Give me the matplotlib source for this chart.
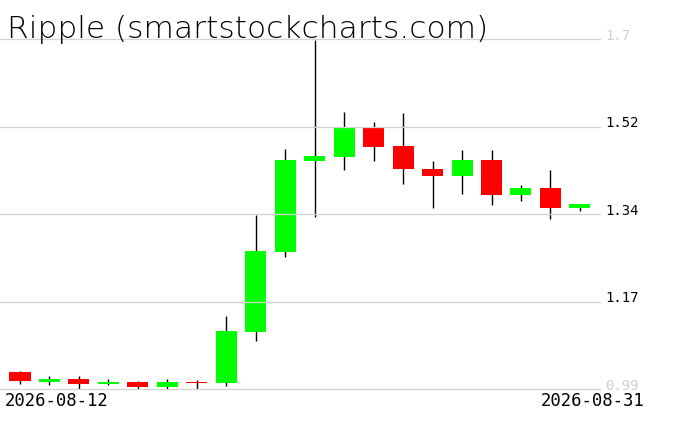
import matplotlib
matplotlib.use('Agg')
import matplotlib.pyplot as plt

title = 'Ripple (smartstockcharts.com)'
dates = ['2026-08-12', '2026-08-13', '2026-08-14', '2026-08-15', '2026-08-16',
         '2026-08-17', '2026-08-18', '2026-08-19', '2026-08-20', '2026-08-21',
         '2026-08-22', '2026-08-23', '2026-08-24', '2026-08-25', '2026-08-26',
         '2026-08-27', '2026-08-28', '2026-08-29', '2026-08-30', '2026-08-31']
opens = [1.0245, 1.0042, 1.0103, 1.0001, 1.0042, 0.9940, 1.0042, 1.0028, 1.1062, 1.2685,
         1.4531, 1.4612, 1.5195, 1.4829, 1.4363, 1.4227, 1.4545, 1.3841, 1.3977, 1.3578]
highs = [1.0265, 1.0164, 1.0164, 1.0103, 1.0062, 1.0103, 1.0082, 1.1381, 1.3430, 1.4769,
         1.6980, 1.5525, 1.5316, 1.5499, 1.4525, 1.4748, 1.4748, 1.4038, 1.4343, 1.3633]
lows = [1.0001, 0.9981, 0.9900, 0.9981, 0.9900, 0.9900, 0.9900, 0.9967, 1.0880, 1.2584,
        1.3395, 1.4349, 1.4531, 1.4065, 1.3578, 1.3862, 1.3639, 1.3720, 1.3355, 1.3517]
closes = [1.0062, 1.0103, 1.0001, 1.0042, 0.9940, 1.0042, 1.0022, 1.1076, 1.2699, 1.4545,
          1.4627, 1.5195, 1.4815, 1.4363, 1.4227, 1.4545, 1.3841, 1.3977, 1.3578, 1.3653]
ytick_values = [0.99, 1.1675, 1.345, 1.5225, 1.70]
ytick_labels = ['0.99', '1.17', '1.34', '1.52', '1.7']
date_labels = [dates[0], dates[-1]]

W, H = 676, 431
fig = plt.figure(figsize=(W / 100, H / 100), dpi=100)
# axes spans pixel rows 36..394 (top->bottom); 0.99 at row 390, 1.70 at row 40
upp = 0.71 / 350.0
ax = fig.add_axes([0, (H - 394) / H, 601 / W, 358 / H])

xs = list(range(len(dates)))
colors = ['#00ff00' if c >= o else '#ff0000' for o, c in zip(opens, closes)]
bottoms = [min(o, c) for o, c in zip(opens, closes)]
heights = [max(abs(c - o), 0.0012) for o, c in zip(opens, closes)]

ax.vlines(xs, lows, highs, color='black', linewidth=1.0, zorder=1, clip_on=False)
ax.bar(xs, heights, bottom=bottoms, width=0.713, color=colors, linewidth=0, zorder=2)

ax.set_xlim(-20 / 29.47, (601 - 20) / 29.47)
ax.set_ylim(0.99 - 4 * upp, 1.70 + 4 * upp)
ax.set_yticks(ytick_values)
ax.set_yticklabels(ytick_labels)
ax.yaxis.tick_right()
ax.tick_params(axis='y', length=0, pad=2.9, labelsize=10)
ax.set_xticks([])
for lab in ax.get_yticklabels():
    lab.set_fontfamily('DejaVu Sans Mono')
    lab.set_va('baseline')
labs = ax.get_yticklabels()
for i, lab in enumerate(labs):
    lab.set_color('#cfcfcf' if i in (0, len(labs) - 1) else 'black')

ax.set_axisbelow(False)
ax.grid(axis='y', color='#d3d3d3', linewidth=0.9)
ax.grid(axis='x', visible=False)
for s in ax.spines.values():
    s.set_visible(False)
ax.patch.set_alpha(0)

fig.text(7 / W, (H - 38) / H, title, fontsize=22.5, family='DejaVu Sans',
         fontweight='ultralight', va='baseline', ha='left')
fig.text(5 / W, (H - 406) / H, date_labels[0], fontsize=12.4,
         family='DejaVu Sans Mono', va='baseline', ha='left')
fig.text(645 / W, (H - 406) / H, date_labels[1], fontsize=12.4,
         family='DejaVu Sans Mono', va='baseline', ha='right')

fig.savefig('out.png', dpi=100)
